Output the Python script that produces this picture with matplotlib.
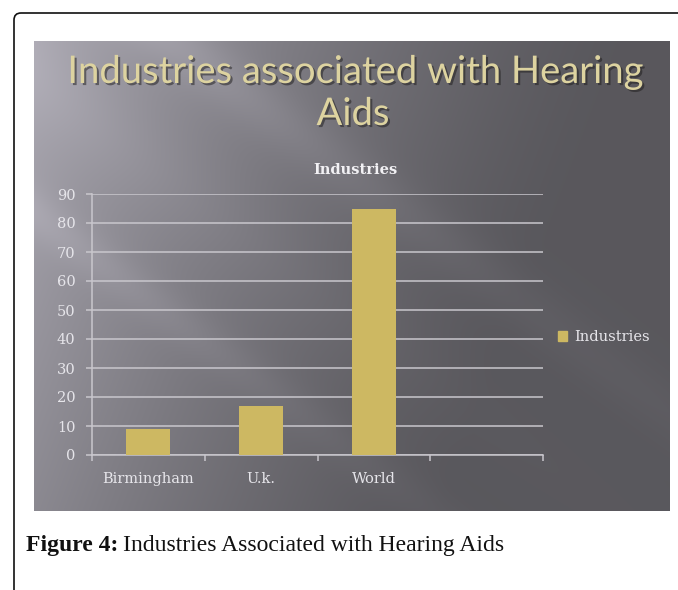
import numpy as np
import matplotlib
matplotlib.use("Agg")
import matplotlib.pyplot as plt
import matplotlib.patheffects as pe
from matplotlib.patches import FancyBboxPatch, Patch
from matplotlib.transforms import IdentityTransform

categories = ["Birmingham", "U.k.", "World"]
industries = [9, 17, 85]
yticks = list(range(0, 91, 10))
series_name = "Industries"

W_PX, H_PX = 678, 590
BAR_COLOR = "#cdb862"
LABEL_COLOR = "#e6e5ea"
GRID_COLOR = "#c9c7cd"


def fx(px):
    return px / W_PX


def fy(py):
    return 1 - py / H_PX


fig = plt.figure(figsize=(W_PX / 100, H_PX / 100), dpi=100)

# page frame with rounded top-left corner
frame = FancyBboxPatch((14, -60), 760, H_PX - 13 + 60,
                       boxstyle="round,pad=0,rounding_size=7",
                       transform=IdentityTransform(), fill=False,
                       ec="#111111", lw=1.2)
fig.add_artist(frame)

# slide background: gray gradient with diagonal light streaks
ph, pw = 470, 636
py, px = np.mgrid[0:ph, 0:pw].astype(float)
ramp = np.clip(1 - (px * 0.8 + py * 0.3) / 470, 0, 1) ** 1.4
b = 0.35 + 0.32 * ramp
d = -0.6 * px + 0.8 * py
t = 0.8 * px + 0.6 * py
b += 0.07 * np.exp(-((d + 84) / 28) ** 2) * np.exp(-t / 500)
b += 0.06 * np.exp(-((d - 138) / 22) ** 2) * np.exp(-t / 450)
b += 0.03 * np.exp(-((d - 30) / 40) ** 2) * np.exp(-t / 350)
rgb = np.clip(b[..., None] * np.array([1.0, 0.985, 1.04]), 0, 1)

bg = fig.add_axes([fx(34), fy(511), pw / W_PX, ph / H_PX], zorder=0)
bg.imshow(rgb, aspect="auto", interpolation="bilinear")
bg.axis("off")

shadow = [pe.withSimplePatchShadow(offset=(1.5, -1.5), shadow_rgbFace="#1c1a1a", alpha=0.5)]
fig.text(fx(356), fy(83), "Industries associated with Hearing", ha="center",
         va="baseline", fontsize=27.5, family="Lato", color="#ddd3a0",
         path_effects=shadow, zorder=3)
fig.text(fx(353), fy(125), "Aids", ha="center", va="baseline", fontsize=27.5,
         family="Lato", color="#ddd3a0", path_effects=shadow, zorder=3)

# chart
ax = fig.add_axes([fx(92), fy(455), 451 / W_PX, 261 / H_PX], zorder=2)
ax.set_facecolor("none")
x = np.arange(len(categories))
ax.bar(x, industries, width=0.39, color=BAR_COLOR, label=series_name, zorder=3)
ax.set_xlim(-0.5, len(categories) + 0.5)
ax.set_ylim(0, 90)
ax.set_yticks(yticks)
ax.grid(axis="y", color=GRID_COLOR, lw=1.1, zorder=1)
ax.set_axisbelow(True)

for s in ["top", "right"]:
    ax.spines[s].set_visible(False)
for s in ["left", "bottom"]:
    ax.spines[s].set_color(GRID_COLOR)
    ax.spines[s].set_linewidth(1.1)

ax.set_xticks(x)
ax.set_xticklabels(categories)
ax.set_xticks(np.arange(-0.5, len(categories) + 1, 1), minor=True)
ax.tick_params(axis="x", which="major", length=0, pad=12, labelsize=10.5,
               labelcolor=LABEL_COLOR)
ax.tick_params(axis="x", which="minor", length=4, width=1.1, color=GRID_COLOR,
               direction="out")
ax.tick_params(axis="y", length=4, width=1.1, color=GRID_COLOR, pad=8,
               labelsize=10.5, labelcolor=LABEL_COLOR)
for lab in ax.get_xticklabels() + ax.get_yticklabels():
    lab.set_family("DejaVu Serif")

fig.text(fx(355), fy(174), "Industries", ha="center", va="baseline",
         fontsize=10.5, family="DejaVu Serif", weight="bold", color="#f2f1f4",
         zorder=3)

ax.legend(handles=[Patch(color=BAR_COLOR, label=series_name)],
          loc="center left", bbox_to_anchor=(fx(558), fy(337)),
          bbox_transform=fig.transFigure, frameon=False, borderpad=0,
          borderaxespad=0, handlelength=0.65, handleheight=0.65,
          handletextpad=0.45, prop={"family": "DejaVu Serif", "size": 10.5},
          labelcolor=LABEL_COLOR)

# caption
fig.canvas.draw()
r = fig.canvas.get_renderer()
cap1 = fig.text(fx(26), fy(551), "Figure 4:", ha="left", va="baseline",
                fontsize=17, family="Liberation Serif", weight="bold",
                color="#111111")
ext = cap1.get_window_extent(renderer=r)
fig.text((ext.x1 + 5) / W_PX, fy(551), "Industries Associated with Hearing Aids",
         ha="left", va="baseline", fontsize=17, family="Liberation Serif",
         color="#111111")

fig.savefig("out.png", dpi=100)
